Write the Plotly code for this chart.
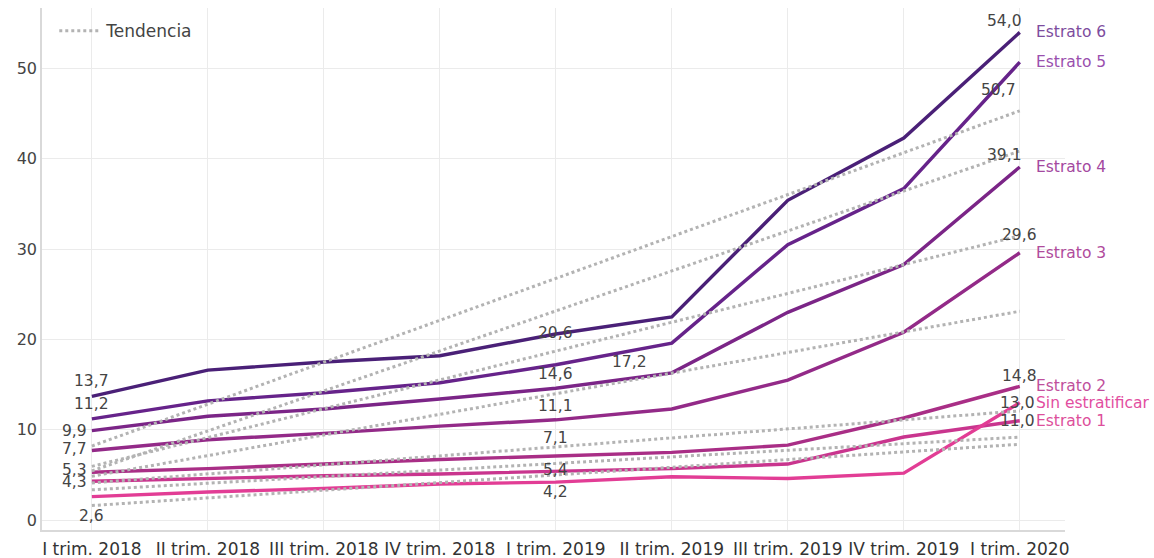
import numpy as np
import plotly.graph_objects as go

quarters = ["I trim. 2018", "II trim. 2018", "III trim. 2018", "IV trim. 2018",
            "I trim. 2019", "II trim. 2019", "III trim. 2019", "IV trim. 2019", "I trim. 2020"]

series_names = ["Estrato 6", "Estrato 5", "Estrato 4", "Estrato 3",
                "Estrato 2", "Estrato 1", "Sin estratificar"]

estrato6 = [13.7, 16.6, 17.5, 18.2, 20.6, 22.5, 35.4, 42.3, 54.0]
estrato5 = [11.2, 13.2, 14.1, 15.2, 17.2, 19.6, 30.5, 36.7, 50.7]
estrato4 = [9.9, 11.5, 12.3, 13.4, 14.6, 16.3, 23.0, 28.3, 39.1]
estrato3 = [7.7, 8.9, 9.6, 10.4, 11.1, 12.3, 15.5, 20.8, 29.6]
estrato2 = [5.3, 5.7, 6.2, 6.7, 7.1, 7.5, 8.3, 11.3, 14.8]
estrato1 = [4.3, 4.6, 4.9, 5.1, 5.4, 5.7, 6.2, 9.2, 11.0]
sin_estr = [2.6, 3.1, 3.5, 4.0, 4.2, 4.8, 4.6, 5.2, 13.0]

values = [estrato6, estrato5, estrato4, estrato3, estrato2, estrato1, sin_estr]

line_colors = ["#4a2077", "#66238a", "#7b2587", "#932a88", "#a92e86", "#c9358e", "#e23d95"]
name_colors = ["#7d4c9e", "#9a4fae", "#a4489f", "#b04b9c", "#bf4f9c", "#dd4f9b", "#e24e9f"]

# which points carry a value label: (series index, point index, xanchor, yanchor, xshift, yshift)
label_spec = [
    (0, 0, "center", "bottom", 0, 4), (1, 0, "center", "bottom", 0, 4),
    (2, 0, "right", "middle", -3, 0), (3, 0, "right", "middle", -3, 2),
    (4, 0, "right", "middle", -3, 2), (5, 0, "right", "middle", -3, -1),
    (6, 0, "center", "top", 0, -8),
    (0, 4, "center", "middle", 0, 1), (1, 4, "center", "middle", 74, 3),
    (2, 4, "center", "bottom", 0, 3), (3, 4, "center", "bottom", 0, 3),
    (4, 4, "center", "bottom", 0, 7), (5, 4, "center", "middle", 0, 1),
    (6, 4, "center", "top", 0, 1),
    (0, 8, "right", "bottom", 4, 0), (1, 8, "right", "top", -2, -17),
    (2, 8, "right", "bottom", 4, 1), (3, 8, "center", "bottom", 0, 7),
    (4, 8, "center", "bottom", 0, -1), (6, 8, "right", "middle", 17, 0),
    (5, 8, "right", "middle", 17, 0),
]

x = list(range(len(quarters)))
fig = go.Figure()

for i, (name, vals) in enumerate(zip(series_names, values)):
    fig.add_trace(go.Scatter(
        x=x, y=vals, mode="lines", name=name, showlegend=False,
        line=dict(color=line_colors[i], width=3.4),
    ))

for i, vals in enumerate(values):
    slope, intercept = np.polyfit(x, vals, 1)
    trend = [slope * xi + intercept for xi in x]
    fig.add_trace(go.Scatter(
        x=x, y=trend, mode="lines", name="Tendencia",
        legendgroup="trend", showlegend=(i == 0),
        line=dict(color="#b3b3b3", width=3, dash="dot"),
    ))

for si, pi, xa, ya, xs, ys in label_spec:
    v = values[si][pi]
    fig.add_annotation(
        x=x[pi], y=v, text=f"{v:.1f}".replace(".", ","), showarrow=False,
        xanchor=xa, yanchor=ya, xshift=xs, yshift=ys,
        font=dict(size=15.5, color="#444444"),
    )

for i, (name, vals) in enumerate(zip(series_names, values)):
    fig.add_annotation(
        x=x[-1], y=vals[-1], text=name, showarrow=False,
        xanchor="left", yanchor="middle", xshift=14,
        font=dict(size=15.5, color=name_colors[i]),
    )

fig.update_layout(
    width=1154, height=558,
    margin=dict(l=42, r=89, t=8, b=28),
    paper_bgcolor="white", plot_bgcolor="white",
    font=dict(family="DejaVu Sans", size=15, color="#444444"),
    legend=dict(x=0.012, y=0.99, xanchor="left", yanchor="top", itemwidth=42,
                bgcolor="rgba(0,0,0,0)", font=dict(size=17, color="#444444")),
    xaxis=dict(
        tickmode="array", tickvals=x, ticktext=quarters, automargin=False,
        range=[-0.43, 8.39], showgrid=True, gridcolor="#ebebeb", gridwidth=1,
        showline=True, linecolor="#d9d9d9", linewidth=1.5,
        ticks="", tickfont=dict(size=17, color="#333333"), zeroline=False,
        ticklabelstandoff=3,
    ),
    yaxis=dict(
        range=[-1.1, 56.7], tickvals=[0, 10, 20, 30, 40, 50], automargin=False,
        showgrid=True, gridcolor="#ebebeb", gridwidth=1,
        showline=True, linecolor="#d9d9d9", linewidth=1.5,
        ticks="", tickfont=dict(size=16, color="#444444"), zeroline=False,
    ),
)

fig.write_html(
    "out.html",
    config={"displayModeBar": False},
    post_script="document.body.style.margin='0';document.body.style.overflow='hidden';",
)
